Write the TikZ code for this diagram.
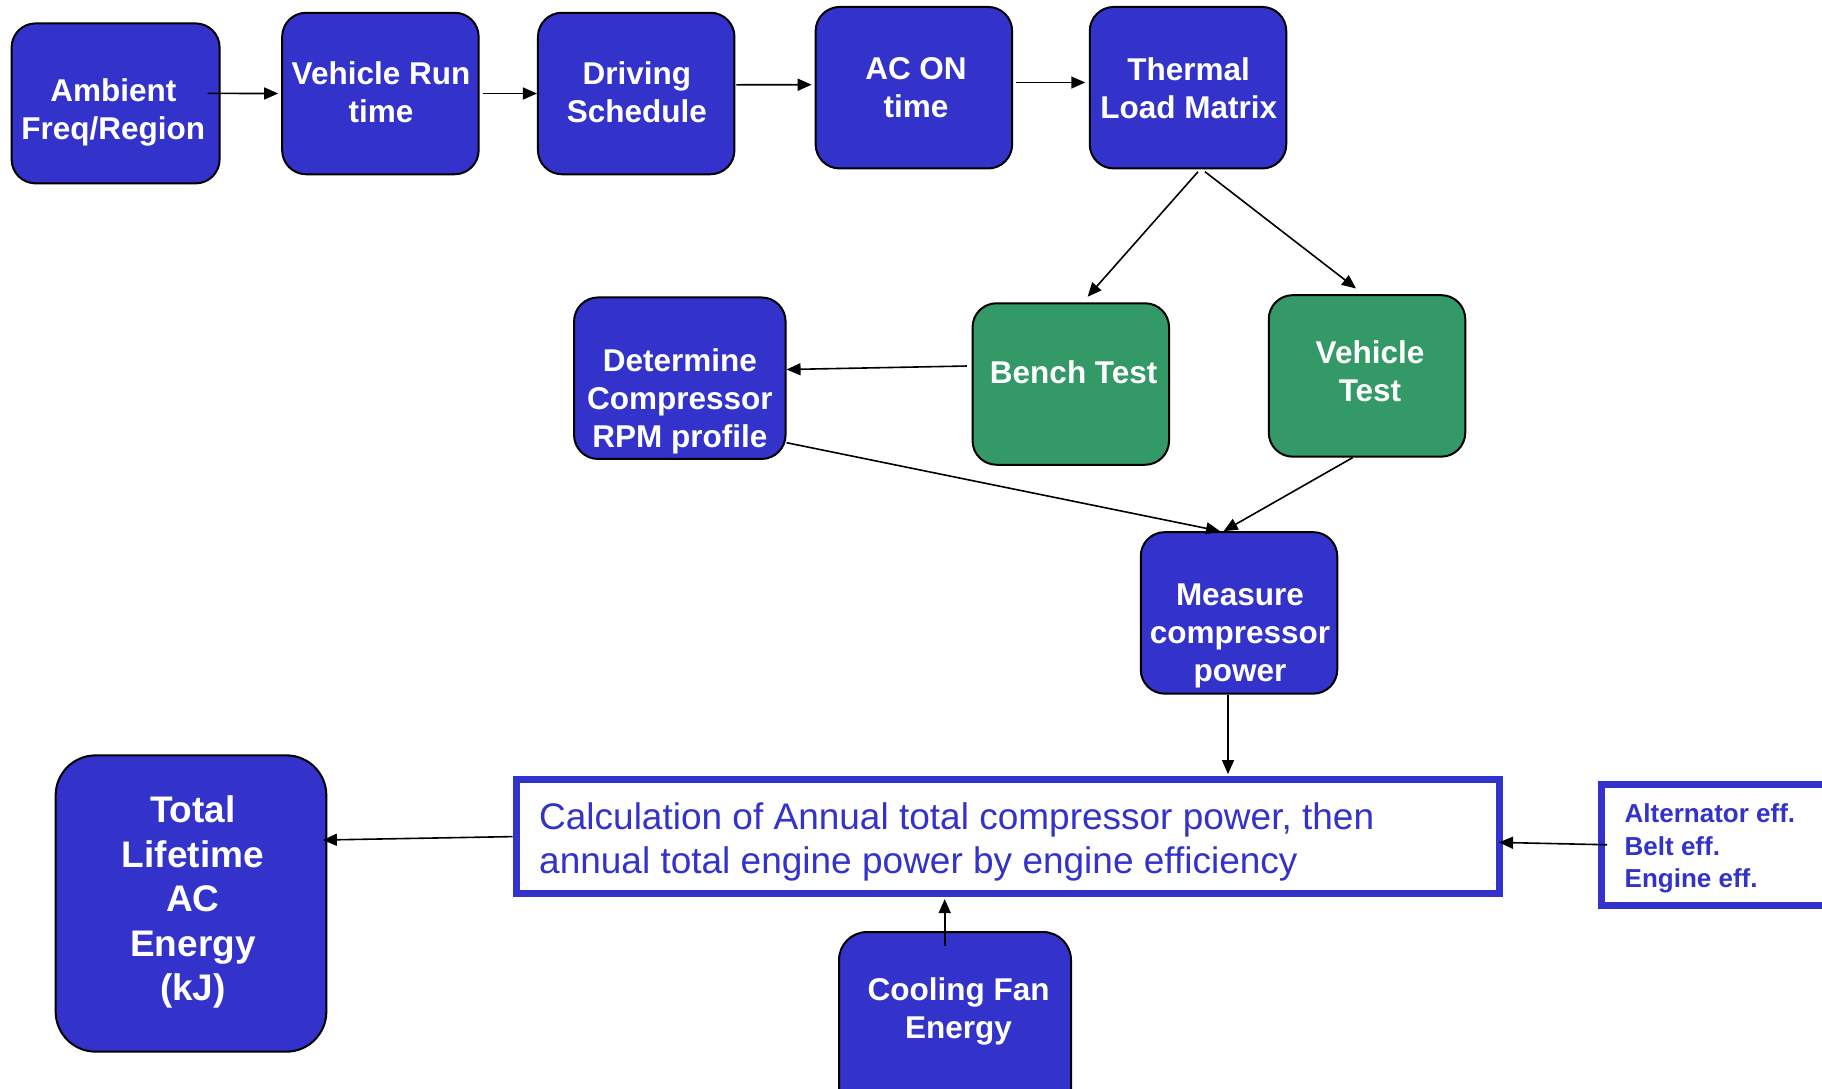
\documentclass[tikz,border=0pt]{standalone}
\usepackage{fontspec}
\setmainfont{Liberation Sans}
\usetikzlibrary{arrows.meta,calc}
\definecolor{boxblue}{RGB}{51,51,204}
\definecolor{boxgreen}{RGB}{51,153,102}
\begin{document}
\begin{tikzpicture}[x=1pt,y=-1pt,
  box/.style={draw=black, line width=2pt, rounded corners=24pt, inner sep=0pt, fill=boxblue},
  gbox/.style={box, fill=boxgreen},
  btxt/.style={text=white, font=\fontsize{31.5}{38}\selectfont\bfseries, align=center, inner sep=0pt},
  arr/.style={-{Triangle[length=14pt,width=12pt]}, line width=1.6pt},
  bluerect/.style={draw=boxblue, line width=7pt, fill=white, inner sep=0pt}]
\useasboundingbox (0,0) rectangle (1822,1088);
\clip (0,0) rectangle (1822,1088);

% boxes
\node[box, minimum width=208pt, minimum height=160pt] (amb) at (115.6,103.4) {};
\node[box, minimum width=196.5pt, minimum height=161.5pt] (vrun) at (380.4,93.5) {};
\node[box, minimum width=196.5pt, minimum height=161.5pt] (drive) at (636.2,93.5) {};
\node[box, minimum width=196.5pt, minimum height=161.5pt] (acon) at (913.9,87.7) {};
\node[box, minimum width=196.5pt, minimum height=161.5pt] (therm) at (1188,87.7) {};
\node[gbox, minimum width=196.5pt, minimum height=161.5pt] (bench) at (1070.8,384) {};
\node[gbox, minimum width=196.5pt, minimum height=161.5pt] (vtest) at (1367,375.9) {};
\node[box, minimum width=211.5pt, minimum height=161.5pt] (determ) at (679.8,378.2) {};
\node[box, minimum width=196.5pt, minimum height=161.5pt] (meas) at (1239,612.9) {};
\node[bluerect, minimum width=983pt, minimum height=114pt] (calc) at (1007.5,836.6) {};
\node[bluerect, minimum width=240pt, minimum height=121pt] (alt) at (1721,844.75) {};
\node[box, rounded corners=40pt, minimum width=270.7pt, minimum height=296.3pt] (total) at (191,903.5) {};
\node[box, rounded corners=28pt, minimum width=232pt, minimum height=200pt] (cool) at (955,1032) {};

% connectors
\draw[arr] ($(amb.east)+(-13,-10)$) -- ($(vrun.west)+(-3,0)$);
\draw[arr] ($(vrun.east)+(3,0)$) -- (drive.west);
\draw[arr] ($(drive.east)+(1,-8.7)$) -- ($(acon.west)+(-3,-3)$);
\draw[arr] ($(acon.east)+(2.4,-5.2)$) -- ($(therm.west)+(-3.5,-5.2)$);
\draw[arr] ($(therm.south)+(10,2.3)$) -- ($(bench.north)+(16.8,-5.5)$);
\draw[arr] ($(therm.south)+(17,2.3)$) -- ($(vtest.north)+(-11,-5.7)$);
\draw[arr] ($(bench.west)+(-4.6,-18)$) -- ($(determ.east)+(0,-8.7)$);
\draw[arr] ($(determ.east)+(0,64.5)$) -- ($(meas.north)+(-19,0)$);
\draw[arr] ($(vtest.south)+(-14.4,0)$) -- ($(meas.north)+(-15.4,0)$);
\draw[arr] ($(meas.south)+(-11,0)$) -- ($(meas.south |- calc.north)+(-11,-2)$);
\draw[arr] (calc.west) -- ($(total.east)+(-4.5,-63.5)$);
\draw[arr] ($(alt.west)+(9.5,0)$) -- ($(calc.east)+(-3.5,5.8)$);
\draw[arr] ($(cool.north)+(-10.3,15)$) -- ($(cool.north |- calc.south)+(-10.3,2)$);

% texts
\node[btxt] (ambt) at (113.3,112) {Ambient\\Freq/Region};
\node[btxt] (vrunt) at (381,92.6) {Vehicle Run\\time};
\node[btxt] (drivet) at (636.8,92.6) {Driving\\Schedule};
\node[btxt] (acont) at (916,87.4) {AC ON\\time};
\node[btxt] (thermt) at (1188.7,87.8) {Thermal\\Load Matrix};
\node[btxt] (bencht) at (1073.7,372.2) {Bench Test};
\node[btxt] (vtestt) at (1370,371.7) {Vehicle\\Test};
\node[btxt] (determt) at (679.8,401.5) {Determine\\Compressor\\RPM profile};
\node[btxt] (meast) at (1239.9,635.5) {Measure\\compressor\\power};
\node[btxt, font=\fontsize{37}{44.5}\selectfont\bfseries] (totalt) at (192.9,902.3) {Total\\Lifetime\\AC\\Energy\\(kJ)};
\node[btxt] (coolt) at (958.6,1011.5) {Cooling Fan\\Energy};
\node[anchor=west, text=boxblue, font=\fontsize{37}{44}\selectfont, align=left, inner sep=0pt] (calct) at (539,841.5) {Calculation of Annual total compressor power, then\\annual total engine power by engine efficiency};
\node[anchor=west, text=boxblue, font=\fontsize{26}{32.5}\selectfont\bfseries, align=left, inner sep=0pt] (altt) at (1624.5,848.5) {Alternator eff.\\Belt eff.\\Engine eff.};
\end{tikzpicture}
\end{document}
